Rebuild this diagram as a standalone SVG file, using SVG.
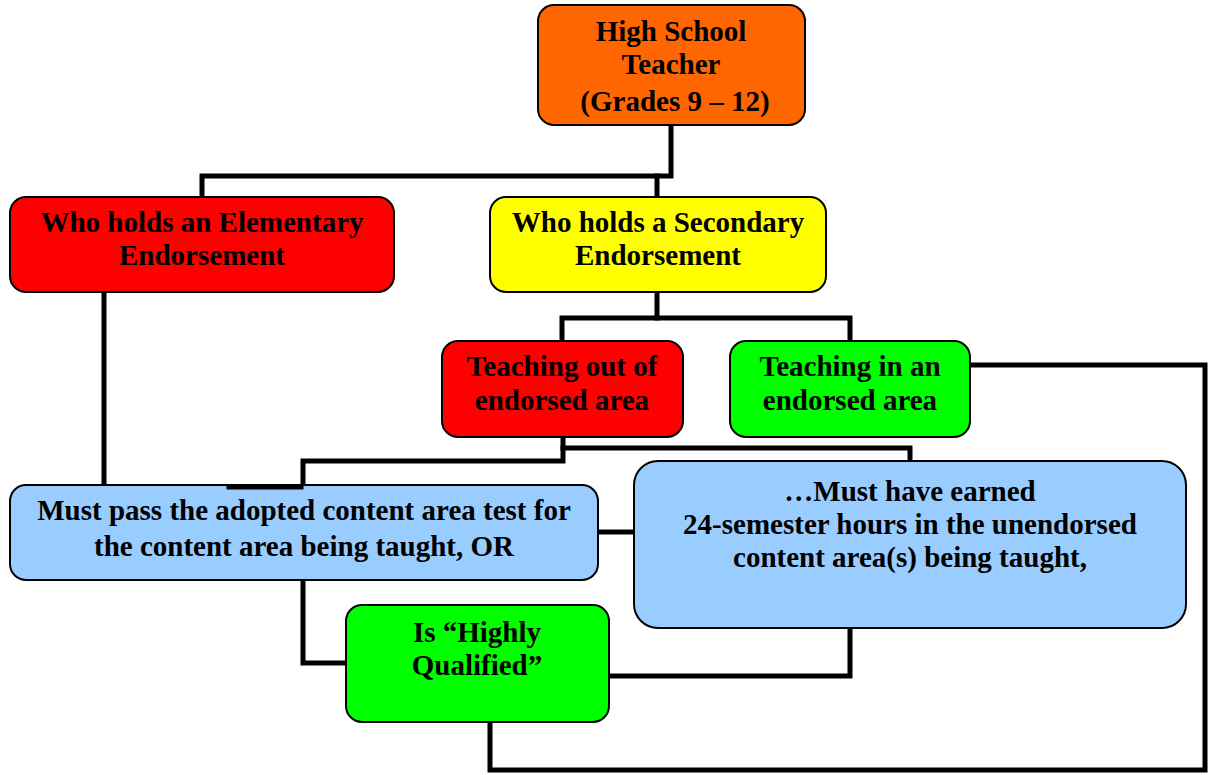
<svg xmlns="http://www.w3.org/2000/svg" width="1209" height="775" viewBox="0 0 1209 775">
<style>
.box{stroke:#000;stroke-width:2}
.t{font-family:"Liberation Serif","Times New Roman",serif;font-weight:bold;font-size:29px;text-anchor:middle;fill:#000}
.c{fill:none;stroke:#000;stroke-width:5;stroke-linejoin:miter;stroke-linecap:square}
</style>
<rect width="1209" height="775" fill="#fff"/>
<g id="n-top"><rect class="box" x="538" y="5" width="267" height="120" rx="16" fill="#FF6600"/>
<text class="t" x="671" y="41">High School</text><text class="t" x="671" y="74">Teacher</text><text class="t" x="675" y="111">(Grades 9 – 12)</text></g>
<g id="n-elem"><rect class="box" x="10" y="197" width="384" height="95" rx="16" fill="#FF0000"/>
<text class="t" x="202" y="232">Who holds an Elementary</text><text class="t" x="202" y="265">Endorsement</text></g>
<g id="n-sec"><rect class="box" x="490" y="197" width="336" height="95" rx="16" fill="#FFFF00"/>
<text class="t" x="658" y="232">Who holds a Secondary</text><text class="t" x="658" y="265">Endorsement</text></g>
<g id="n-out"><rect class="box" x="442" y="341" width="241" height="96" rx="16" fill="#FF0000"/>
<text class="t" x="562" y="376">Teaching out of</text><text class="t" x="562" y="410">endorsed area</text></g>
<g id="n-in"><rect class="box" x="730" y="341" width="240" height="96" rx="16" fill="#00FF00"/>
<text class="t" x="850" y="376">Teaching in an</text><text class="t" x="850" y="410">endorsed area</text></g>
<g id="n-test"><rect class="box" x="10" y="485" width="588" height="95" rx="16" fill="#99CCFF"/>
<text class="t" x="304" y="520">Must pass the adopted content area test for</text><text class="t" x="304" y="556">the content area being taught, OR</text></g>
<g id="n-hours"><rect class="box" x="634" y="461" width="552" height="167" rx="24" fill="#99CCFF"/>
<text class="t" x="910" y="501">…Must have earned</text><text class="t" x="910" y="534">24-semester hours in the unendorsed</text><text class="t" x="910" y="567">content area(s) being taught,</text></g>
<g id="n-hq"><rect class="box" x="346" y="605" width="263" height="117" rx="16" fill="#00FF00"/>
<text class="t" x="477" y="642">Is “Highly</text><text class="t" x="477" y="675">Qualified”</text></g>
<g id="connectors">
<path class="c" d="M671,127 V176 H202 V195"/>
<path class="c" d="M657,176 V195"/>
<path class="c" d="M657,294 V318 H562 V339"/>
<path class="c" d="M657,318 H850 V339"/>
<path class="c" d="M104,294 V483"/>
<path class="c" d="M563,439 V448 H910 V459"/>
<path class="c" d="M563,448 V461 H303 V483"/>
<path class="c" d="M229,487 H301"/>
<path class="c" d="M600,532 H632"/>
<path class="c" d="M303,582 V663 H344"/>
<path class="c" d="M850,630 V676 H611"/>
<path class="c" d="M972,365 H1205 V770 H490 V724"/>
</g>
</svg>
